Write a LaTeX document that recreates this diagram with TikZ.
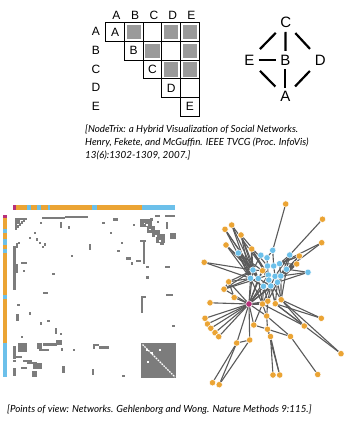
\documentclass[tikz,border=0pt]{standalone}
\usepackage{fontspec}
\setmainfont{Liberation Sans}
\newfontfamily\capfont{Lato}
\definecolor{mgray}{HTML}{7C7C7C}
\definecolor{cgray}{HTML}{9A9A9A}
\definecolor{egray}{HTML}{5A5A5A}
\definecolor{orng}{HTML}{EBA434}
\definecolor{skyb}{HTML}{6CC0EA}
\definecolor{mgnt}{HTML}{B8307A}
\tikzset{
  lbl/.style={font=\fontsize{12}{12}\selectfont, inner sep=0pt},
  cellbox/.style={draw=black, line width=1.1pt},
  cellfill/.style={fill=cgray},
  gletter/.style={font=\fontsize{15}{15}\selectfont, circle, inner sep=0pt, minimum size=18pt},
  gedge/.style={line width=2.2pt, black},
  cite/.style={font=\capfont\itshape\fontsize{9.8}{12.8}\selectfont, inner sep=0pt, align=left, anchor=north west},
  onode/.style={circle, fill=orng, draw=white, line width=0.5pt, minimum size=6.4pt, inner sep=0pt},
  bnode/.style={circle, fill=skyb, draw=white, line width=0.5pt, minimum size=6.4pt, inner sep=0pt},
  mnode/.style={circle, fill=mgnt, draw=white, line width=0.5pt, minimum size=6.4pt, inner sep=0pt},
  nedge/.style={egray, line width=1.1pt},
}
\begin{document}
\begin{tikzpicture}[x=1pt,y=-1pt]
\useasboundingbox (0,0) rectangle (343,423);

% ---------- NodeTrix half matrix ----------
\foreach \l [count=\i from 0] in {A,B,C,D,E} {
  \node[lbl] (col\l) at (116.5+18.7*\i,15) {\l};
  \node[lbl] (row\l) at (96,31.5+18.7*\i) {\l};
}
% gray cells (row, column)
\foreach \r/\c in {0/1,0/3,0/4,1/2,1/4,2/3,2/4}
  \fill[cellfill] (105.7+18.7*\c+2.3,22.7+18.7*\r+2.3) rectangle ++(14.1,14.1);
% cell borders, one staircase row at a time
\foreach \r in {0,...,4}
  \foreach \c in {\r,...,4}
    \draw[cellbox] (105.7+18.7*\c,22.7+18.7*\r) rectangle ++(18.7,18.7);
\foreach \l [count=\i from 0] in {A,B,C,D,E}
  \node[lbl] (diag\l) at (115.05+18.7*\i,32.05+18.7*\i) {\l};

% ---------- node-link version ----------
\node[gletter] (gC) at (285.7,22.7) {C};
\node[gletter] (gB) at (285.3,60) {B};
\node[gletter] (gE) at (249.3,60) {E};
\node[gletter] (gD) at (320.3,60) {D};
\node[gletter] (gA) at (285.3,96.7) {A};
\draw[gedge] (gC) -- (gB);
\draw[gedge] (gB) -- (gA);
\draw[gedge] (gE) -- (gB);
\draw[gedge, shorten <=5pt, shorten >=6pt] (gC) -- (gE);
\draw[gedge, shorten <=5pt, shorten >=6pt] (gC) -- (gD);
\draw[gedge, shorten <=6pt, shorten >=5pt] (gE) -- (gA);
\draw[gedge, shorten <=6pt, shorten >=5pt] (gD) -- (gA);

\node[cite] (cite1) at (85,125) {[NodeTrix: a Hybrid Visualization of Social Networks.\\
Henry, Fekete, and McGuffin. IEEE TVCG (Proc. InfoVis)\\
13(6):1302-1309, 2007.]};

% ---------- adjacency matrix ----------
% group colour bars
\fill[orng] (12.7,205) rectangle (175,209.5);
\foreach \a/\b in {26.7/31,37.3/41.3,47.7/50,91.7/96.7,141.7/175}
  \fill[skyb] (\a,205) rectangle (\b,209.5);
\fill[mgnt] (12.7,205) rectangle (15.7,209.5);
\fill[orng] (2.7,215) rectangle (7,377);
\foreach \a/\b in {229/233,239/245,249/253,295/299,343/377}
  \fill[skyb] (2.7,\a) rectangle (7,\b);
\fill[mgnt] (2.7,215) rectangle (7,218.3);

% single entries
\foreach \x/\y in {40.7/222.7,69/227.3,103.3/222.7,110.7/232.7,134/225,35/232.7,
  30/237.7,36.7/239.3,40/242.7,42.7/246.7,45/244.3,19/242.7,71.7/256,53.3/274,
  24/271,121.7/242.7,118.3/250.7,131.7/263.3,147.3/266.7,147.3/277.3,173.3/326,
  18.3/305,30/313.3,40.7/323.3,48.3/321,60.7/334,21.7/336.7,61.7/349.3,74/350,
  123.3/376,14.3/361,151.3/219.5,158.2/222,24/220.5,22/222.5,20/224.5,18/226.5,
  26/219}
  \fill[mgray] (\x-1.2,\y-1.2) rectangle ++(2.4,2.4);
% runs of entries
\foreach \a/\b/\c/\d in {
  15/217.5/17.4/229.5, 15/217.5/26/219.9, 17.4/219.9/19.8/223.5,
  41.7/216.7/65/218.9, 65/215.5/88.3/217.7, 60/221.5/62.4/227.5,
  112.7/218.3/117.7/220.5, 89/244/91.4/250, 126/257.3/131/259.5,
  136/259.7/141/261.9, 142.5/249/145/264, 164.5/265.7/169.5/267.9,
  43/291.7/48/293.9, 141/296/145.5/298.2, 141/296/143.4/312.5,
  166/294/172.5/296.2, 16.2/314/18.6/320.5, 55/328/57.4/334,
  13/245.5/15.6/290, 15.6/242.5/18/248, 15.6/264/18/272.5,
  21/262.2/26.5/264.4, 62.2/365.5/64.6/372.5, 91.5/369/93.9/374.5,
  92.5/344/94.9/349, 92.5/344/98.5/346.2, 99/346.3/108.5/348.5,
  13/345.5/15.6/358.5, 18/343/27/352, 15.6/356/22/358.2, 23/359.5/32/362,
  26.5/361.5/37/364, 33/363/42/368.5, 13/367.5/15.6/376, 21/366.5/27/368.7,
  31.5/371/37/377, 36.5/343/41.5/348.5, 39/349/48.5/351.2, 43/343/56.5/345.5,
  56/340/61.5/345,
  140/219/152/227, 147/226/155/233, 152/230/160/237, 156/234/165/243,
  160/238/164/245, 155/215/160/217.4, 165/215/175/217.4,
  165.5/221.5/167.9/229, 170/233/175.5/238.5, 140/239.5/146/241.9,
  142.7/240/145.1/256}
  \fill[mgray] (\a,\b) rectangle (\c,\d);
% holes inside the dense upper-right block
\foreach \x/\y in {143.5/222.5,149/228.5,155/235,159/240,146/224}
  \fill[white] (\x,\y) rectangle ++(1.6,1.6);
% clique block with its empty diagonal
\fill[mgray] (141,343) rectangle (176,377.5);
\draw[white, line width=1.3pt, dash pattern=on 1.7pt off 1.0pt] (142.5,344.5) -- (175,377);
\foreach \x/\y in {146.7/350,151.7/353.3,160/350,148.3/361.7}
  \fill[white] (\x-0.9,\y-0.9) rectangle ++(1.8,1.8);

% ---------- node-link network ----------
\foreach \n/\x/\y in {o1/285.7/204,o2/322.5/219.2,o3/231.7/225,o4/225/229.3,
  o5/241/235,o6/321.7/242.7,o7/226/245,o8/251.7/249,o9/299.3/256,o10/204.2/262.3,
  o11/296.7/264,o12/262.5/270.7,o13/228.7/281.8,o14/224/289.2,o15/234.2/297.5,
  o16/210/302.8,o17/262.5/304,o18/267.8/301.2,o19/275.3/303.7,o20/281.2/299.7,
  o21/266.7/316,o22/321.3/318.3,o23/205/318.3,o24/207.5/324,o25/210.8/328.3,
  o26/215/332.7,o27/218.7/336.7,o28/253.8/325,o29/267.5/329.2,o30/304.3/326,
  o32/270.5/336.5,o33/290.5/336.5,o34/249.7/340,o35/236.7/343,o36/341/353.7,
  o37/273/375,o38/279.7/375,o39/317.7/374.5,o40/212.5/382.7,o41/219.2/384.7}
  \coordinate (\n) at (\x,\y);
\foreach \n/\x/\y in {b1/238.3/253,b2/260.8/255.2,b3/272.7/250.3,b4/289.7/255,
  b5/267/257.8,b6/279.5/263.7,b7/273.7/266,b8/267.5/266,b9/253/270,
  b10/286.5/269.2,b11/308/272.3,b12/268.3/275,b13/275/276.3,b14/280.8/276,
  b15/250.5/278.3,b16/258.3/278.5,b17/268.8/280,b18/277.5/282.3,
  b19/263.5/286.3,b20/270.8/286}
  \coordinate (\n) at (\x,\y);
\coordinate (m) at (249,304);

\foreach \a/\b in {o1/b3,o2/b4,o6/b10,o6/b6,
  o3/b9,o3/b15,o3/b12,o4/b9,o4/b15,o4/b16,o5/b9,o5/b15,o5/b16,o5/b8,
  o7/b9,o7/b15,o7/b16,o8/b9,o8/b15,o8/b12,o8/b17,o10/b15,o10/b9,
  b1/b9,b1/b15,b1/b16,b1/b12,
  o9/b10,o9/b6,o9/b14,o9/b7,o11/b10,o11/b6,o11/b13,o11/b14,o11/b18,
  b4/b10,b4/b6,b4/b14,b4/b13,b11/b14,b11/b18,b11/b10,
  b2/b5,b5/b8,b8/b12,b3/b7,b6/b7,b9/b16,b15/b19,b16/b20,b12/b17,b13/b18,
  b14/b18,b17/b19,b17/b20,b2/b9,b3/b5,b6/b14,b7/b13,b10/b14,b12/b16,
  o12/b9,o12/b16,o12/b17,
  o13/b15,o13/b9,o14/b15,o14/b9,o14/b16,o14/o13,
  m/b15,m/b16,m/b19,m/b20,m/b9,m/b12,m/b17,m/o12,m/b18,
  m/o15,m/o16,m/o23,m/o24,m/o25,m/o26,m/o27,m/o34,m/o35,m/o28,m/o21,m/o13,m/o14,
  m/o17,m/o18,
  b19/o17,b19/o18,b20/o18,b20/o19,b18/o19,b18/o20,b17/o20,b14/o20,b10/o20,
  b13/o17,b12/o19,b16/o17,b15/o17,b18/o18,
  o17/o21,o18/o21,o21/o29,o21/o33,o28/o17,o28/o29,o29/o33,
  o17/o30,o19/o22,o20/o22,o19/o30,o20/o30,o19/o36,o20/o36,
  o29/o32,o32/o37,o32/o38,o29/o38,o33/o39,
  o34/o35,o35/o40,o35/o41,o34/o41,o15/o13}
  \draw[nedge] (\a) -- (\b);

\foreach \n in {o1,o2,o3,o4,o5,o6,o7,o8,o9,o10,o11,o12,o13,o14,o15,o16,o17,o18,
  o19,o20,o21,o22,o23,o24,o25,o26,o27,o28,o29,o30,o32,o33,o34,o35,o36,o37,o38,
  o39,o40,o41}
  \node[onode] (dot\n) at (\n) {};
\foreach \n in {b1,b2,b3,b4,b5,b6,b7,b8,b9,b10,b11,b12,b13,b14,b15,b16,b17,b18,
  b19,b20}
  \node[bnode] (dot\n) at (\n) {};
\node[mnode] (dotm) at (m) {};

\node[cite] (cite2) at (7,405) {[Points of view: Networks. Gehlenborg and Wong. Nature Methods 9:115.]};
\end{tikzpicture}
\end{document}
